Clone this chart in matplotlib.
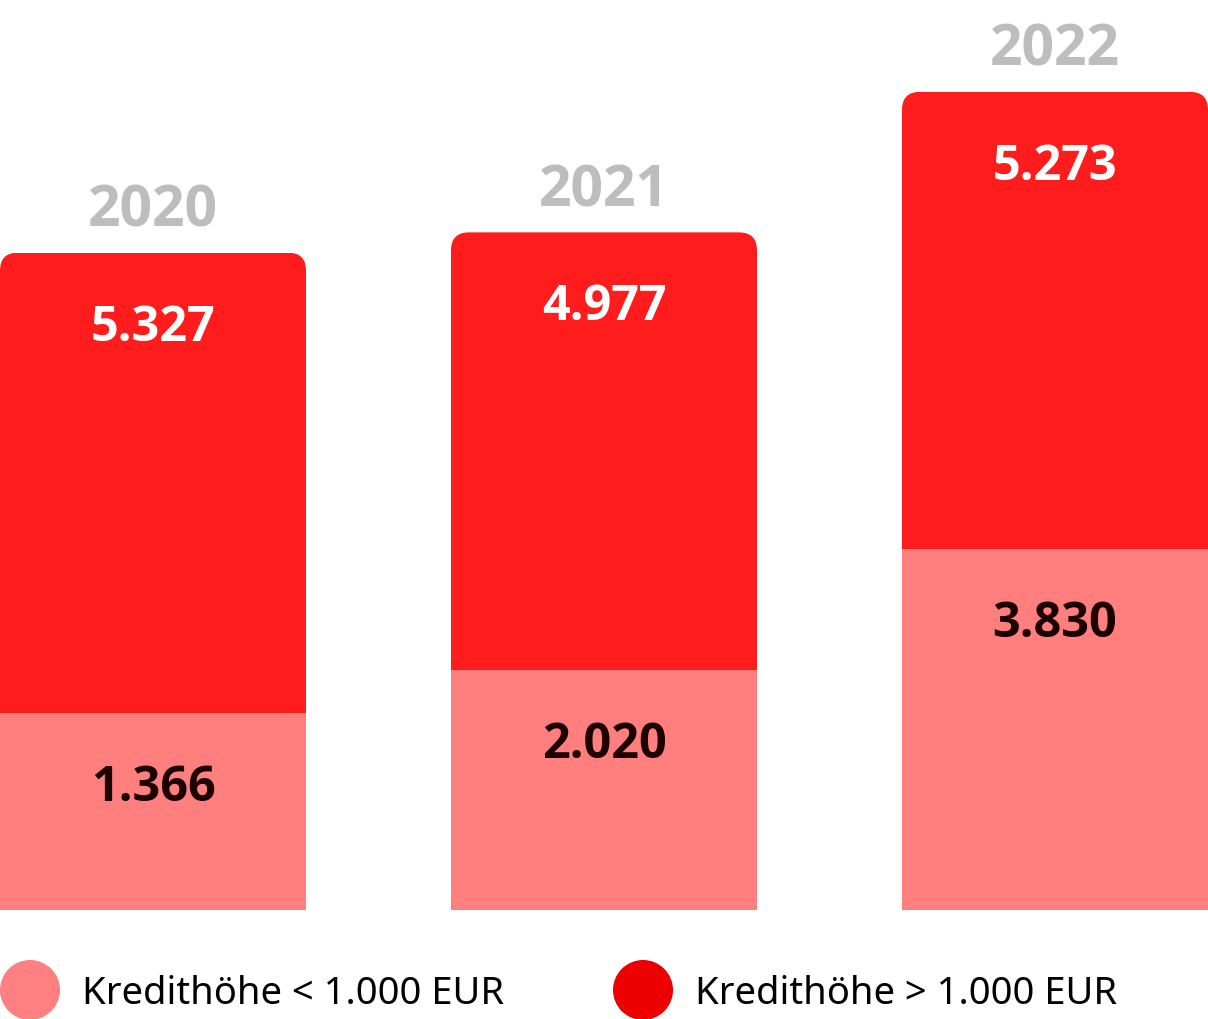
import matplotlib
matplotlib.use("Agg")
import matplotlib.pyplot as plt
from matplotlib.patches import FancyBboxPatch, Ellipse

years = ["2020", "2021", "2022"]
small_loans = [1366, 2020, 3830]   # Kredithöhe < 1.000 EUR
large_loans = [5327, 4977, 5273]   # Kredithöhe > 1.000 EUR
legend_labels = ["Kredithöhe < 1.000 EUR", "Kredithöhe > 1.000 EUR"]

def fmt(v):
    return f"{v:,}".replace(",", ".")

# style / layout constants
C_LOW = "#ff7f7f"
C_HIGH = "#ff1c1c"
C_LEG_LOW = "#ff8080"
C_LEG_HIGH = "#ee0000"
C_YEAR = "#bdbdbd"
C_DARK = "#1c0000"
SEG_PAD = 1580          # visual minimum height added to each segment
BAR_W = 0.6785
RADIUS_PX = 18
BOLD_FONT = ["Open Sans", "DejaVu Sans"]

plt.rcParams["font.family"] = ["Noto Sans", "DejaVu Sans"]

W, H = 1208, 1019
fig = plt.figure(figsize=(W / 100, H / 100), dpi=100)
ax = fig.add_axes([0, (H - 910) / H, 1, 910 / H])
ax.set_xlim(-BAR_W / 2, len(years) - 1 + BAR_W / 2)
ax.set_ylim(0, 13640)
ax.axis("off")

x = list(range(len(years)))
low_h = [v + SEG_PAD for v in small_loans]
high_h = [v + SEG_PAD for v in large_loans]

ax.bar(x, low_h, width=BAR_W, color=C_LOW, linewidth=0)
top_bars = ax.bar(x, high_h, bottom=low_h, width=BAR_W, color=C_HIGH, linewidth=0)

# rounded top corners via clip paths
xu = (ax.get_xlim()[1] - ax.get_xlim()[0]) / W
yu = (ax.get_ylim()[1] - ax.get_ylim()[0]) / 910
aspect = yu / xu
r = RADIUS_PX * xu
for p in top_bars.patches:
    x0, y0 = p.get_x(), p.get_y()
    w, h = p.get_width(), p.get_height()
    extra = 60 * yu
    clip = FancyBboxPatch((x0, y0 - extra), w, h + extra,
                          boxstyle=f"round,pad=0,rounding_size={r}",
                          mutation_aspect=aspect, transform=ax.transData)
    p.set_clip_path(clip)

for i in range(len(years)):
    top = low_h[i] + high_h[i]
    ax.annotate(years[i], (x[i], top), xytext=(0, 26), textcoords="offset pixels",
                ha="center", va="baseline", fontsize=41, fontweight="bold",
                family=BOLD_FONT, color=C_YEAR)
    ax.annotate(fmt(large_loans[i]), (x[i], top), xytext=(0, -88), textcoords="offset pixels",
                ha="center", va="baseline", fontsize=35, fontweight="bold",
                family=BOLD_FONT, color="white")
    ax.annotate(fmt(small_loans[i]), (x[i], low_h[i]), xytext=(0, -88), textcoords="offset pixels",
                ha="center", va="baseline", fontsize=35, fontweight="bold",
                family=BOLD_FONT, color=C_DARK)

# legend
lax = fig.add_axes([0, 0, 1, (H - 910) / H])
lax.set_xlim(0, W)
lax.set_ylim(H, 910)
lax.axis("off")
leg_items = [(30, 82, C_LEG_LOW, legend_labels[0]), (643, 695, C_LEG_HIGH, legend_labels[1])]
for cx, tx, col, lab in leg_items:
    lax.add_patch(Ellipse((cx, 990), 60, 60, color=col, linewidth=0))
    lax.text(tx, 990, lab, ha="left", va="center_baseline", fontsize=27.5, color="black")

fig.savefig("out.png", dpi=100)
